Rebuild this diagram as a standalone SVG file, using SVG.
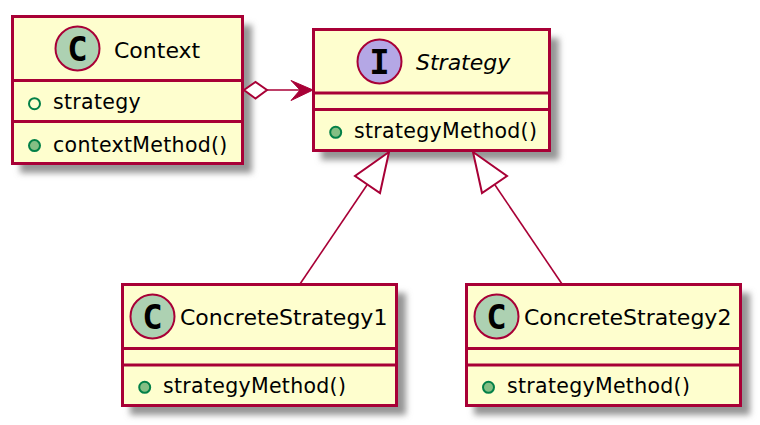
<svg xmlns="http://www.w3.org/2000/svg" width="760" height="425" viewBox="0 0 760 425">
<style>
text{font-family:"DejaVu Sans","Liberation Sans",sans-serif;fill:#000}
.box{fill:#FEFECE;stroke:#A80036;stroke-width:3}
.div{stroke:#A80036;stroke-width:3;fill:none}
.shadow{fill:#959595;filter:url(#blur)}
.badge{stroke:#A80036;stroke-width:2}
.c{fill:#ADD1B2}
.i{fill:#B4A7E5}
.name{font-size:22px}
.member{font-size:20.5px;letter-spacing:.3px}
.glyph{font-size:34px;font-weight:bold;font-family:"DejaVu Sans Mono","Liberation Mono",monospace}
.pub{fill:#84BE84;stroke:#038048;stroke-width:2}
.fld{fill:none;stroke:#038048;stroke-width:2}
.edge{fill:none;stroke:#A80036;stroke-width:1.6}
.head{fill:#fff;stroke:#A80036;stroke-width:2}
</style>
<defs>
<filter id="blur" x="-10%" y="-10%" width="120%" height="120%"><feGaussianBlur stdDeviation="3"/></filter>
</defs>
<rect width="760" height="425" fill="#fff"/>
<g id="Context">
<rect class="shadow" x="20" y="25" width="232" height="148"/>
<rect class="box" x="12.5" y="16.5" width="230" height="147"/>
<path class="div" d="M12.5 80.5H242.5M12.5 121.5H242.5"/>
<circle class="badge c" cx="77.5" cy="48.5" r="22"/>
<text class="glyph" x="77.5" y="61" text-anchor="middle">C</text>
<text class="name" x="114" y="57.5">Context</text>
<circle class="fld" cx="34.5" cy="103.7" r="5.5"/>
<text class="member" x="53" y="109">strategy</text>
<circle class="pub" cx="34.5" cy="145.6" r="5.5"/>
<text class="member" x="53" y="151.5">contextMethod()</text>
</g>
<g id="Strategy">
<rect class="shadow" x="321" y="38" width="238" height="122"/>
<rect class="box" x="313.5" y="29.5" width="236" height="121"/>
<path class="div" d="M313.5 93H549.5M313.5 109.5H549.5"/>
<circle class="badge i" cx="379.5" cy="61.5" r="22"/>
<text class="glyph" x="379.5" y="74" text-anchor="middle">I</text>
<text class="name" x="416" y="70" font-style="italic">Strategy</text>
<circle class="pub" cx="335.7" cy="132.3" r="5.5"/>
<text class="member" x="354" y="138">strategyMethod()</text>
</g>
<g id="ConcreteStrategy1">
<rect class="shadow" x="130" y="293" width="276" height="122"/>
<rect class="box" x="122.5" y="284.5" width="274" height="121"/>
<path class="div" d="M122.5 348.5H396.5M122.5 365H396.5"/>
<circle class="badge c" cx="152.5" cy="316.5" r="22"/>
<text class="glyph" x="152.5" y="329" text-anchor="middle">C</text>
<text class="name" x="180" y="325">ConcreteStrategy1</text>
<circle class="pub" cx="144.7" cy="387.3" r="5.5"/>
<text class="member" x="163" y="393">strategyMethod()</text>
</g>
<g id="ConcreteStrategy2">
<rect class="shadow" x="474" y="293" width="276" height="122"/>
<rect class="box" x="466.5" y="284.5" width="274" height="121"/>
<path class="div" d="M466.5 348.5H740.5M466.5 365H740.5"/>
<circle class="badge c" cx="496.5" cy="316.5" r="22"/>
<text class="glyph" x="496.5" y="329" text-anchor="middle">C</text>
<text class="name" x="524" y="325">ConcreteStrategy2</text>
<circle class="pub" cx="488.5" cy="387.3" r="5.5"/>
<text class="member" x="507" y="393">strategyMethod()</text>
</g>
<g id="connectors">
<path class="edge" d="M266 90H305"/>
<path d="M313 90L291 80.5L300 90L291 100.5Z" fill="#A80036" stroke="#A80036" stroke-width="1"/>
<path class="head" d="M244 90L255.5 82L267 90L255.5 98.5Z"/>
<path class="edge" d="M367 185L300 284"/>
<path class="head" d="M389 152L355 176L380 193Z"/>
<path class="edge" d="M495 185L562 284"/>
<path class="head" d="M473 152L482 193L507 176Z"/>
</g>
</svg>
